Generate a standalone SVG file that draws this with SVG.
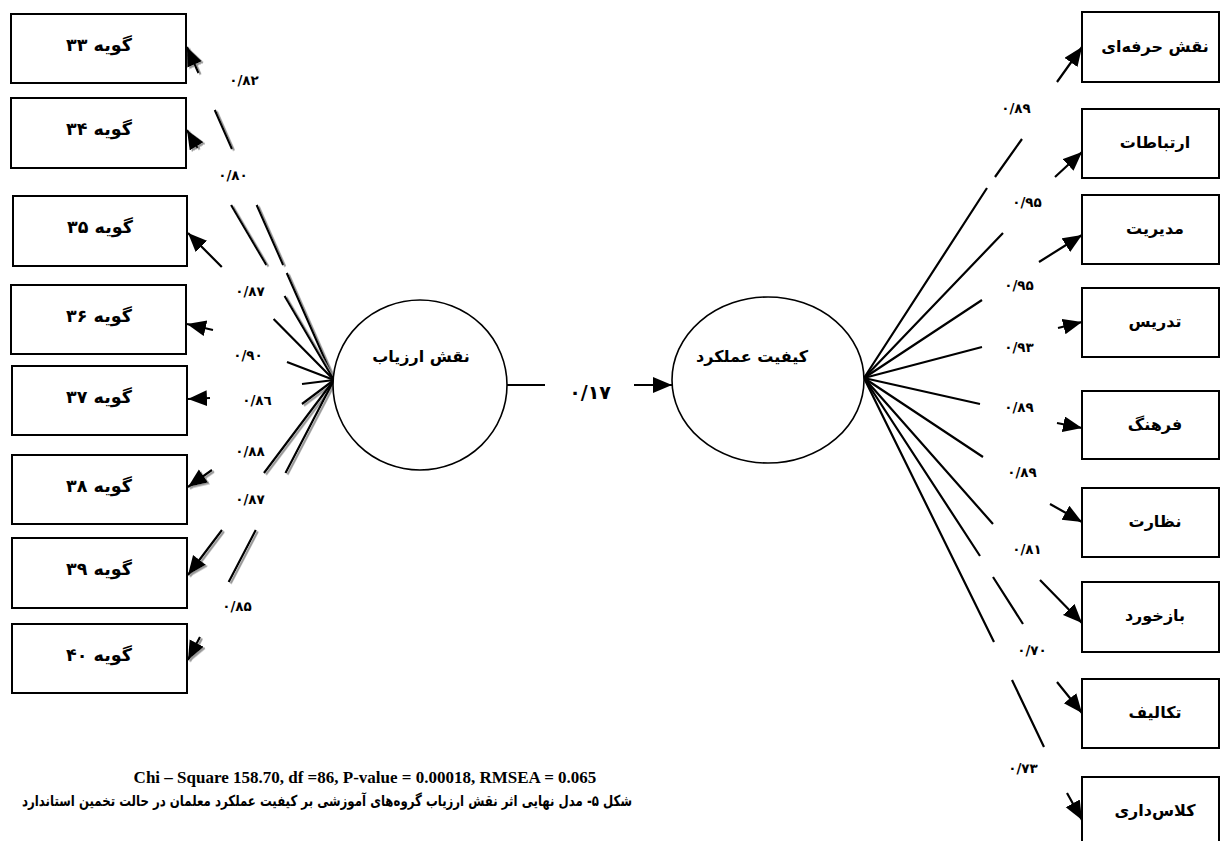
<svg xmlns="http://www.w3.org/2000/svg" width="1227" height="841" viewBox="0 0 1227 841">
<style>
.box{fill:#fff;stroke:#000;stroke-width:2}
.ell{fill:#fff;stroke:#000;stroke-width:1.6}
.fa{font-family:"DejaVu Sans",sans-serif;font-weight:bold;fill:#000;text-anchor:middle}
.bt{font-size:16px}
.bl{font-size:17.5px}
.lb{font-size:13.5px}
.cn{fill:none;stroke:#000;stroke-width:2.2}
.sh{filter:url(#ds)}
</style>
<defs>
<marker id="ar" markerUnits="userSpaceOnUse" markerWidth="22" markerHeight="18" refX="19" refY="8" orient="auto">
<path d="M0,0 L19,8 L0,16 z" fill="#000"/>
</marker>
<filter id="ds" x="-20%" y="-20%" width="140%" height="140%">
<feDropShadow dx="2" dy="1.5" stdDeviation="0" flood-color="#999" flood-opacity="1"/>
</filter>
</defs>
<rect width="1227" height="841" fill="#fff"/>

<g id="connectors">
<path class="cn sh" marker-end="url(#ar)" d="M334,380 L286.8,273 M283.2,265 L256.7,205 M232,149 L214.8,110 M198.5,73 L187,47"/>
<path class="cn sh" marker-end="url(#ar)" d="M334,380 L284.6,296 M266.4,265 L231.1,205 M197.6,148 L187,130"/>
<path class="cn" marker-end="url(#ar)" d="M334,380 L273.6,319 M221.8,267 L188,233"/>
<path class="cn" marker-end="url(#ar)" d="M334,380 L287,362 M213,330 L187,324"/>
<path class="cn" marker-end="url(#ar)" d="M334,380 L302,384 M210,398 L188,399"/>
<path class="cn sh" marker-end="url(#ar)" d="M334,380 L302,404 M212,470 L188,487"/>
<path class="cn sh" marker-end="url(#ar)" d="M334,380 L264,473 M222,530 L188,575"/>
<path class="cn sh" marker-end="url(#ar)" d="M334,380 L285.5,473 M255.8,530 L228.7,582 M200,637 L188,660"/>

<path class="cn" stroke-width="3" d="M507,385 L545,385"/>
<path class="cn" stroke-width="3" marker-end="url(#ar)" d="M634,385 L672,385"/>

<path class="cn" marker-end="url(#ar)" d="M864,378 L987,188 M995,177 L1022,139 M1057,82 L1082,47"/>
<path class="cn" marker-end="url(#ar)" d="M864,378 L1003,233 M1055,177 L1082,152"/>
<path class="cn" marker-end="url(#ar)" d="M864,378 L982,300 M1039,262 L1082,235"/>
<path class="cn" marker-end="url(#ar)" d="M864,378 L982,347 M1058,328 L1082,322"/>
<path class="cn" marker-end="url(#ar)" d="M864,378 L980,404 M1057,423 L1082,428"/>
<path class="cn" marker-end="url(#ar)" d="M864,378 L983,457 M1050,504 L1082,522"/>
<path class="cn" marker-end="url(#ar)" d="M864,378 L993,524 M1040,580 L1082,623"/>
<path class="cn" marker-end="url(#ar)" d="M864,378 L980,556 M993,577 L1023,624 M1057,682 L1082,713"/>
<path class="cn" marker-end="url(#ar)" d="M864,378 L994,642 M1012,680 L1044,747 M1067,793 L1082,820"/>

<g class="fa lb">
<text x="244" y="85">۰/۸۲</text>
<text x="233" y="180">۰/۸۰</text>
<text x="250" y="296">۰/۸۷</text>
<text x="248" y="360">۰/۹۰</text>
<text x="257" y="405">۰/۸٦</text>
<text x="250" y="456">۰/۸۸</text>
<text x="250" y="504">۰/۸۷</text>
<text x="237" y="611">۰/۸۵</text>
<text x="1016" y="113">۰/۸۹</text>
<text x="1027" y="207">۰/۹۵</text>
<text x="1019" y="290">۰/۹۵</text>
<text x="1019" y="352">۰/۹۳</text>
<text x="1019" y="412">۰/۸۹</text>
<text x="1022" y="477">۰/۸۹</text>
<text x="1027" y="554">۰/۸۱</text>
<text x="1032" y="655">۰/۷۰</text>
<text x="1023" y="773">۰/۷۳</text>
<text x="590" y="399" style="font-size:19px">۰/۱۷</text>
</g>
</g>

<g id="n33"><rect class="box" x="11" y="14" width="175" height="69"/><text class="fa bl" x="99" y="51">گویه ۳۳</text></g>
<g id="n34"><rect class="box" x="11" y="98" width="175" height="70"/><text class="fa bl" x="99" y="135">گویه ۳۴</text></g>
<g id="n35"><rect class="box" x="13" y="196" width="174" height="70"/><text class="fa bl" x="100" y="233">گویه ۳۵</text></g>
<g id="n36"><rect class="box" x="11" y="285" width="175" height="69"/><text class="fa bl" x="99" y="322">گویه ۳۶</text></g>
<g id="n37"><rect class="box" x="12" y="366" width="175" height="69"/><text class="fa bl" x="99" y="403">گویه ۳۷</text></g>
<g id="n38"><rect class="box" x="12" y="455" width="175" height="69"/><text class="fa bl" x="99" y="492">گویه ۳۸</text></g>
<g id="n39"><rect class="box" x="12" y="538" width="175" height="70"/><text class="fa bl" x="99" y="575">گویه ۳۹</text></g>
<g id="n40"><rect class="box" x="12" y="624" width="175" height="69"/><text class="fa bl" x="99" y="661">گویه ۴۰</text></g>

<g id="evaluator"><ellipse class="ell" cx="420" cy="385" rx="87" ry="85"/><text class="fa bt" x="421" y="362">نقش ارزیاب</text></g>
<g id="performance"><ellipse class="ell" cx="768" cy="380" rx="96" ry="83"/><text class="fa bt" x="752" y="362">کیفیت عملکرد</text></g>

<g id="r1"><rect class="box" x="1082" y="12" width="137" height="70"/><text class="fa bt" x="1155" y="52">نقش حرفه‌ای</text></g>
<g id="r2"><rect class="box" x="1082" y="109" width="137" height="69"/><text class="fa bt" x="1155" y="148">ارتباطات</text></g>
<g id="r3"><rect class="box" x="1082" y="195" width="137" height="69"/><text class="fa bt" x="1155" y="234">مدیریت</text></g>
<g id="r4"><rect class="box" x="1082" y="288" width="137" height="69"/><text class="fa bt" x="1155" y="327">تدریس</text></g>
<g id="r5"><rect class="box" x="1082" y="391" width="137" height="68"/><text class="fa bt" x="1155" y="430">فرهنگ</text></g>
<g id="r6"><rect class="box" x="1082" y="488" width="137" height="69"/><text class="fa bt" x="1155" y="527">نظارت</text></g>
<g id="r7"><rect class="box" x="1082" y="582" width="137" height="70"/><text class="fa bt" x="1155" y="621">بازخورد</text></g>
<g id="r8"><rect class="box" x="1082" y="679" width="137" height="69"/><text class="fa bt" x="1155" y="718">تکالیف</text></g>
<g id="r9"><rect class="box" x="1082" y="777" width="137" height="70"/><text class="fa bt" x="1155" y="816">کلاس‌داری</text></g>

<text x="365" y="783" style="font-family:'Liberation Serif',serif;font-weight:bold;font-size:17px;text-anchor:middle">Chi – Square 158.70, df =86, P-value = 0.00018, RMSEA = 0.065</text>
<text class="fa" x="327" y="806" style="font-size:15px" direction="rtl" textLength="610" lengthAdjust="spacingAndGlyphs">شکل ۵- مدل نهایی اثر نقش ارزیاب گروه‌های آموزشی بر کیفیت عملکرد معلمان در حالت تخمین استاندارد</text>
</svg>
